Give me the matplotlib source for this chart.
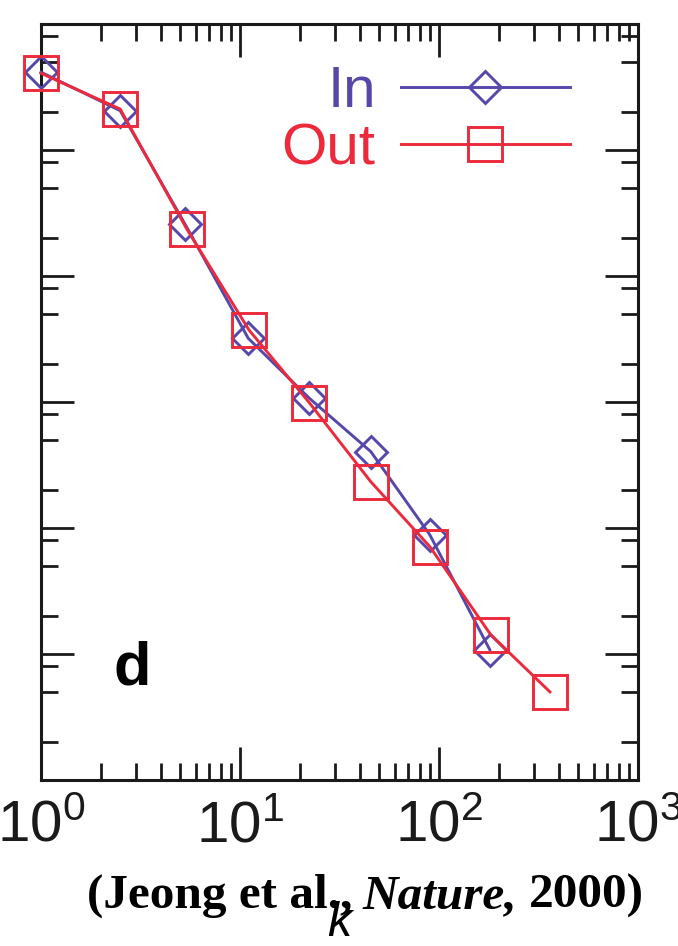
import numpy as np
import matplotlib.pyplot as plt
from matplotlib.ticker import LogLocator, NullFormatter

plt.rcParams['font.family'] = ['Liberation Sans', 'DejaVu Sans']

# degree distribution
k_in = [1, 2.5, 5.3, 11, 22.3, 45.4, 90, 180]
p_in = [0.414, 0.205, 0.0257, 0.0032, 0.00107, 0.000404, 8.8e-5, 1.08e-5]
k_out = [1, 2.5, 5.4, 11.1, 22.3, 45.4, 90, 182, 361]
p_out = [0.406, 0.211, 0.0236, 0.00372, 0.000986, 0.000233, 7.1e-5, 1.42e-5, 5.0e-6]

c_in = '#5647aa'
c_out = '#ec2a3c'

fig = plt.figure(figsize=(6.78, 9.46), dpi=100)
ax = fig.add_axes([0.0605, 0.1755, 0.8805, 0.7992])
ax.set_xscale('log')
ax.set_yscale('log')

ax.plot(k_in, p_in, '-D', color=c_in, ms=16, mfc='none', mew=2.1, lw=2.1,
        label='In', clip_on=False, zorder=3)
ax.plot(k_out, p_out, '-s', color=c_out, ms=24, mfc='none', mew=2.1, lw=2.1,
        label='Out', clip_on=False, zorder=4)

ax.set_xlim(1, 1000)
ax.set_ylim(1e-6, 1)

ax.xaxis.set_major_locator(LogLocator(base=10, numticks=10))
ax.xaxis.set_minor_locator(LogLocator(base=10, subs=np.arange(2, 10), numticks=10))
ax.xaxis.set_minor_formatter(NullFormatter())
ax.yaxis.set_major_locator(LogLocator(base=10, numticks=20))
ax.yaxis.set_minor_locator(LogLocator(base=10, subs=(2, 5, 8), numticks=20))
ax.yaxis.set_major_formatter(NullFormatter())
ax.yaxis.set_minor_formatter(NullFormatter())

ax.tick_params(which='both', direction='in', top=True, right=True, width=2,
               color='#1a1a1a', labelsize=42, labelcolor='#1a1a1a')
ax.tick_params(which='major', length=24)
ax.tick_params(which='minor', length=12)
ax.tick_params(axis='x', pad=14)
for s in ax.spines.values():
    s.set_linewidth(2.2)
    s.set_color('#1a1a1a')

ax.legend(loc='upper right', bbox_to_anchor=(0.886, 0.9455), markerfirst=False,
          frameon=False, fontsize=42, handlelength=2.9, handletextpad=0.43,
          labelspacing=0.05, borderpad=0, borderaxespad=0, labelcolor='linecolor')

ax.text(0.121, 0.126, 'd', transform=ax.transAxes, fontsize=44,
        fontweight='bold', ha='left', va='baseline')

ax.set_xlabel('k', fontsize=35, style='italic')
ax.xaxis.set_label_coords(0.5, -0.160)

# citation under the plot
cite = dict(fontsize=35.5, fontweight='bold', family='Liberation Serif', va='bottom')
t1 = fig.text(0.128, 0.0297, '(Jeong et al.,', **cite)
t2 = ax.annotate('Nature,', xy=(1, 0), xycoords=t1, xytext=(10, 0),
                 textcoords='offset pixels', style='italic', annotation_clip=False, **cite)
t3 = ax.annotate('2000)', xy=(1, 0), xycoords=t2, xytext=(12, 0),
                 textcoords='offset pixels', annotation_clip=False, **cite)

fig.savefig('out.png', dpi=100)
